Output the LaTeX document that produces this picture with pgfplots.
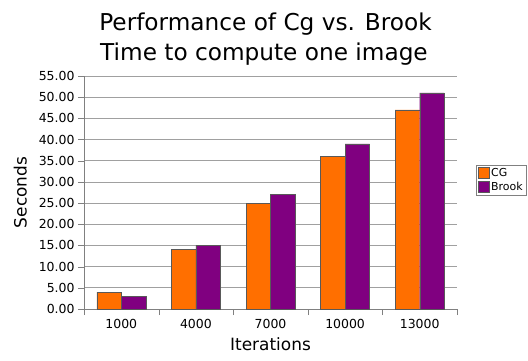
\documentclass[border=0pt]{standalone}
\usepackage{pgfplots}
\pgfplotsset{compat=1.18}
\usepackage{fontspec}
\setmainfont{DejaVu Sans}
\definecolor{cgorange}{HTML}{FF6F00}
\definecolor{brookpurple}{HTML}{800080}
\definecolor{gridgray}{HTML}{A0A0A0}
\definecolor{axgray}{HTML}{808080}
\begin{document}
\begin{tikzpicture}[x=1bp,y=1bp]
\path[use as bounding box] (0,0) rectangle (528,360);
\node[anchor=base,inner sep=0pt,font=\fontsize{23.3}{28}\selectfont] at (265.5,330) {Performance of Cg vs. Brook};
\node[anchor=base,inner sep=0pt,font=\fontsize{23.3}{28}\selectfont] at (264,300) {Time to compute one image};
\begin{axis}[
  at={(84bp,51bp)}, anchor=south west,
  scale only axis, width=373bp, height=233bp,
  ymin=0, ymax=55, ytick distance=5,
  xmin=-0.5, xmax=4.5,
  xtick={0,1,2,3,4},
  xticklabels={1000,4000,7000,10000,13000},
  minor xtick={-0.5,0.5,1.5,2.5,3.5,4.5},
  major x tick style={draw=none},
  minor x tick style={draw=axgray},
  x tick label style={yshift=-1bp},
  xtick align=outside, ytick align=outside,
  minor tick length=6bp, major tick length=6bp,
  tick style={draw=axgray},
  ymajorgrids, grid style={draw=gridgray, line width=0.8pt},
  axis line style={draw=axgray},
  axis x line*=bottom, axis y line*=left,
  ylabel={Seconds}, xlabel={Iterations},
  label style={font=\fontsize{17}{20}\selectfont},
  ylabel style={yshift=5bp},
  xlabel style={yshift=-2bp},
  tick label style={font=\fontsize{12.5}{15}\selectfont},
  /pgf/number format/assume math mode=true,
  yticklabel style={/pgf/number format/.cd, fixed, fixed zerofill, precision=2},
  ybar=0pt, bar width=24.5bp,
  legend style={at={(1.051,0.618)}, anchor=north west, draw=axgray,
    font=\fontsize{11}{13}\selectfont, inner sep=1.5bp, row sep=0pt,
    legend cell align=left},
  legend image code/.code={\draw[#1] (0bp,-5bp) rectangle (11bp,6bp);},
]
\addplot[fill=cgorange, draw=black!65] coordinates {(0,4) (1,14) (2,25) (3,36) (4,47)};
\addplot[fill=brookpurple, draw=black!65] coordinates {(0,3) (1,15) (2,27) (3,39) (4,51)};
\legend{CG,Brook}
\end{axis}
\end{tikzpicture}
\end{document}
